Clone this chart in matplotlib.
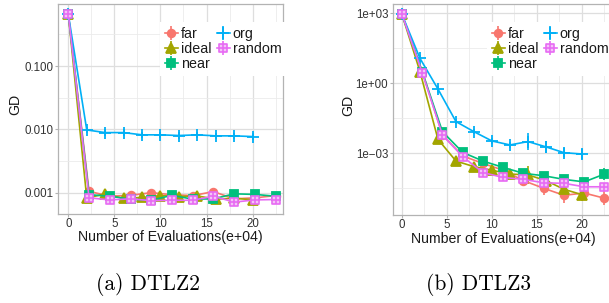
import numpy as np
import matplotlib
matplotlib.use('Agg')
import matplotlib.pyplot as plt
from matplotlib.path import Path
from matplotlib.ticker import FixedLocator, NullFormatter

plt.rcParams['font.family'] = ['Liberation Sans', 'DejaVu Sans']

# x positions (e+04 evaluations)
x_even = [0, 2, 4, 6, 8, 10, 12, 14, 16, 18, 20]
x_step = [0, 2.25, 4.5, 6.75, 9, 11.25, 13.5, 15.75, 18, 20.25, 22.5]

# DTLZ2 GD values
d2_far = [0.656, 0.00105, 0.00088, 0.00091, 0.00100, 0.00093, 0.00090, 0.00104, 0.00080, 0.00083, 0.00090]
d2_ideal = [0.656, 0.00082, 0.00096, 0.00081, 0.00084, 0.00090, 0.00087, 0.00089, 0.00079, 0.00082, 0.00077]
d2_near = [0.656, 0.00093, 0.00088, 0.00079, 0.00076, 0.00091, 0.00079, 0.00080, 0.00096, 0.00094, 0.00088]
d2_org = [0.656, 0.0098, 0.0089, 0.0089, 0.0082, 0.0082, 0.0080, 0.0082, 0.0079, 0.0079, 0.0077]
d2_random = [0.656, 0.00083, 0.00077, 0.00080, 0.00075, 0.00076, 0.00076, 0.00088, 0.00071, 0.00077, 0.00078]

# DTLZ3 GD values
d3_far = [900, 3.2, 0.0061, 7.8e-4, 3.7e-4, 1.9e-4, 6.8e-5, 3.2e-5, 1.6e-5, 2.0e-5, 1.2e-5]
d3_ideal = [900, 3.2, 0.0040, 4.7e-4, 2.7e-4, 1.9e-4, 1.3e-4, 1.2e-4, 6.8e-5, 2.9e-5, 1.7e-5]
d3_near = [900, 3.2, 0.0085, 1.1e-3, 4.7e-4, 2.5e-4, 1.4e-4, 1.1e-4, 7.7e-5, 6.0e-5, 1.3e-4]
d3_org = [900, 11.8, 0.57, 0.023, 0.0085, 0.0034, 0.0023, 0.0032, 0.0019, 0.00107, 0.00094]
d3_random = [900, 2.9, 0.0061, 7.2e-4, 1.5e-4, 9.3e-5, 7.7e-5, 5.5e-5, 5.2e-5, 3.7e-5, 3.7e-5]

# error bar half-lengths (in decades)
e2_far = [0.02, 0.04, 0.03, 0.03, 0.03, 0.03, 0.03, 0.04, 0.04, 0.03, 0.03]
e2_ideal = [0.02, 0.04, 0.04, 0.03, 0.03, 0.04, 0.03, 0.03, 0.03, 0.04, 0.04]
e2_near = [0.02, 0.03, 0.03, 0.03, 0.03, 0.03, 0.03, 0.03, 0.04, 0.03, 0.03]
e2_org = [0.02, 0.05, 0.05, 0.05, 0.05, 0.05, 0.05, 0.05, 0.05, 0.05, 0.05]
e2_random = [0.02, 0.03, 0.03, 0.03, 0.03, 0.03, 0.03, 0.04, 0.03, 0.03, 0.03]

e3_far = [0.03, 0.05, 0.1, 0.1, 0.1, 0.15, 0.2, 0.3, 0.35, 0.25, 0.3]
e3_ideal = [0.03, 0.1, 0.2, 0.15, 0.15, 0.15, 0.15, 0.4, 0.15, 0.15, 0.25]
e3_near = [0.03, 0.05, 0.12, 0.08, 0.08, 0.08, 0.1, 0.1, 0.1, 0.12, 0.25]
e3_org = [0.03, 0.15, 0.15, 0.1, 0.1, 0.12, 0.12, 0.35, 0.25, 0.2, 0.2]
e3_random = [0.03, 0.05, 0.1, 0.1, 0.15, 0.15, 0.15, 0.15, 0.12, 0.12, 0.12]

names = ['far', 'ideal', 'near', 'org', 'random']
colors = ['#F8766D', '#A3A500', '#00BF7D', '#00B0F6', '#E76BF3']

# square with a plus inside (ggplot shape 12)
sq_plus = Path([(-1, -1), (1, -1), (1, 1), (-1, 1), (-1, -1),
                (0, -1), (0, 1), (-1, 0), (1, 0)],
               [Path.MOVETO, Path.LINETO, Path.LINETO, Path.LINETO, Path.CLOSEPOLY,
                Path.MOVETO, Path.LINETO, Path.MOVETO, Path.LINETO])
markers = ['o', '^', 's', '+', sq_plus]
msizes = [5.5, 6.5, 5.5, 8, 5.5]


def draw(ax, xs, ys, errs):
    handles = []
    for name, c, m, ms, x, y, e in zip(names, colors, markers, msizes, xs, ys, errs):
        y = np.array(y)
        e = np.array(e)
        lo = y - y * 10 ** (-e)
        hi = y * 10 ** e - y
        if name == 'random':
            kw = dict(mfc='#F3C4F7', mew=1.2)
        else:
            kw = dict(mew=1.3)
        h = ax.errorbar(x, y, yerr=[lo, hi], color=c, marker=m, ms=ms, lw=1.2,
                        elinewidth=1.2, capsize=0, label=name, **kw)
        handles.append(h)
    return handles


def style(ax, xlim, ylim, yticks, ylabels, yminor):
    ax.set_yscale('log')
    ax.set_xlim(*xlim)
    ax.set_ylim(*ylim)
    ax.set_xticks([0, 5, 10, 15, 20])
    ax.xaxis.set_minor_locator(FixedLocator([2.5, 7.5, 12.5, 17.5, 22.5]))
    ax.set_yticks(yticks)
    ax.set_yticklabels(ylabels)
    ax.yaxis.set_minor_locator(FixedLocator(yminor))
    ax.yaxis.set_minor_formatter(NullFormatter())
    ax.grid(True, which='major', color='#DEDEDE', lw=0.9)
    ax.grid(True, which='minor', color='#EBEBEB', lw=0.6)
    ax.set_axisbelow(True)
    ax.tick_params(which='major', length=2.2, width=0.8, color='#B3B3B3',
                   labelsize=8.3, labelcolor='#333333', pad=1)
    ax.tick_params(which='minor', length=0)
    for s in ax.spines.values():
        s.set_color('#B3B3B3')
        s.set_linewidth(0.9)
    ax.set_xlabel('Number of Evaluations(e+04)', fontsize=10.2, color='#1A1A1A')
    ax.set_ylabel('GD', fontsize=10.2, color='#1A1A1A')


fig = plt.figure(figsize=(6.09, 3.03), dpi=100)
ax1 = fig.add_axes([58 / 609, 1 - 214 / 303, 225 / 609, 210 / 303])
ax2 = fig.add_axes([392.7 / 609, 1 - 215 / 303, 218.7 / 609, 211 / 303])

h1 = draw(ax1, [x_step, x_even, x_step, x_even, x_step],
          [d2_far, d2_ideal, d2_near, d2_org, d2_random],
          [e2_far, e2_ideal, e2_near, e2_org, e2_random])
style(ax1, (-1.12, 23.3), (4.61e-4, 0.955), [0.001, 0.01, 0.1],
      ['0.001', '0.010', '0.100'], [10 ** -2.5, 10 ** -1.5, 10 ** -0.5])
ax1.xaxis.set_label_coords(0.5, -0.074)
ax1.yaxis.set_label_coords(-0.158, 0.52)

h2 = draw(ax2, [x_step, x_even, x_step, x_even, x_step],
          [d3_far, d3_ideal, d3_near, d3_org, d3_random],
          [e3_far, e3_ideal, e3_near, e3_org, e3_random])
style(ax2, (-1.03, 23.27), (10 ** -5.64, 10 ** 3.4), [1e-3, 1e0, 1e3],
      ['1e\u221203', '1e+00', '1e+03'], [10 ** -4.5, 10 ** -1.5, 10 ** 1.5])
ax2.xaxis.set_label_coords(0.506, -0.08)
ax2.yaxis.set_label_coords(-0.172, 0.52)

leg_kw = dict(ncol=2, loc='upper left', bbox_transform=fig.transFigure,
              fontsize=10.3, frameon=True, fancybox=False, edgecolor='none',
              facecolor='white', framealpha=1, handlelength=0.9,
              handletextpad=0.2, columnspacing=0.4, labelspacing=0.08,
              borderpad=0.35, borderaxespad=0)
l1 = ax1.legend(handles=h1, bbox_to_anchor=(160 / 609, 1 - 22 / 303), **leg_kw)
l2 = ax2.legend(handles=h2, bbox_to_anchor=(487 / 609, 1 - 22 / 303), **leg_kw)
for lg in (l1, l2):
    for t in lg.get_texts():
        t.set_color('#1A1A1A')

fig.text(148 / 609, 1 - 284 / 303, '(a) DTLZ2', ha='center', va='center',
         fontsize=15.5, family='cmr10')
fig.text(478 / 609, 1 - 284 / 303, '(b) DTLZ3', ha='center', va='center',
         fontsize=15.5, family='cmr10')

fig.savefig('out.png', dpi=100)
